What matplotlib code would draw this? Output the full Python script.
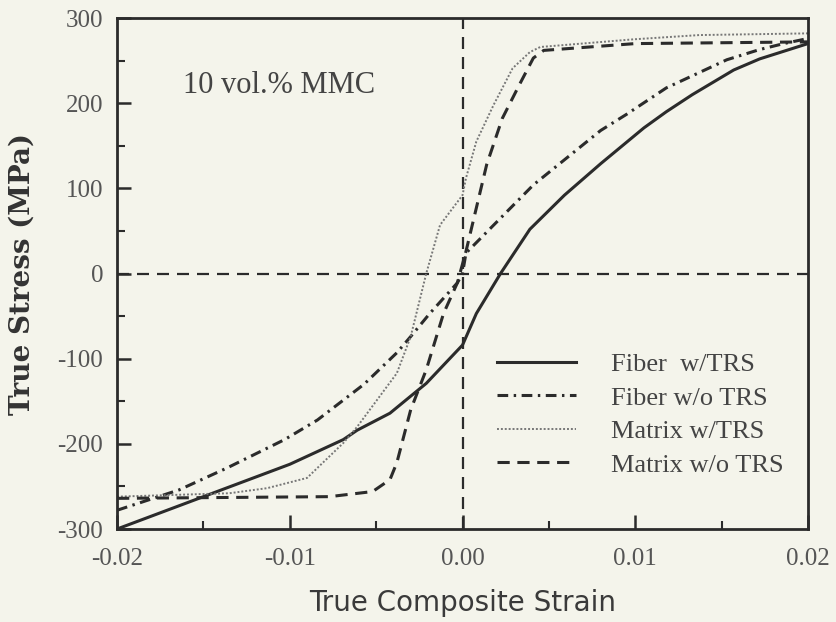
import matplotlib
matplotlib.use('Agg')
import matplotlib.pyplot as plt

plt.rcParams['axes.unicode_minus'] = False

# Fiber w/TRS (solid)
fiber_trs_x = [-0.02, -0.015, -0.01, -0.0069, -0.0061, -0.0042, -0.0021, 0.0, 0.0008, 0.0022,
               0.0039, 0.0059, 0.008, 0.0105, 0.0118, 0.0133, 0.0157, 0.0172, 0.02]
fiber_trs_y = [-300, -262, -224, -195, -184, -164, -129, -84, -47, 0,
               52, 92, 129, 171, 190, 210, 239, 252, 270]

# Fiber w/o TRS (dash-dot)
fiber_notrs_x = [-0.02, -0.0164, -0.0136, -0.0103, -0.0084, -0.0057, -0.0038, -0.003, -0.0019,
                 -0.0003, 0.0, 0.0002, 0.0041, 0.008, 0.0095, 0.0118, 0.0153, 0.0172, 0.0186, 0.02]
fiber_notrs_y = [-278, -254, -228, -195, -172, -130, -93, -74, -47,
                 -11, 0, 24, 104, 168, 187, 218, 251, 263, 270, 276]

# Matrix w/TRS (dotted)
matrix_trs_x = [-0.02, -0.0135, -0.0113, -0.009, -0.0069, -0.0061, -0.0038, -0.003, -0.0021,
                -0.0013, 0.0, 0.0002, 0.0008, 0.0018, 0.0029, 0.0039, 0.0045, 0.0099, 0.0137, 0.02]
matrix_trs_y = [-262, -258, -252, -240, -199, -180, -117, -74, 0,
                57, 92, 112, 155, 198, 241, 260, 266, 275, 280, 282]

# Matrix w/o TRS (dashed)
matrix_notrs_x = [-0.02, -0.0077, -0.0052, -0.0042, -0.0038, -0.003, -0.0021, -0.0011, -0.0003,
                  0.0002, 0.0014, 0.0023, 0.0033, 0.0041, 0.0047, 0.01, 0.02]
matrix_notrs_y = [-264, -262, -256, -242, -222, -160, -113, -47, -11,
                  26, 128, 182, 222, 253, 262, 270, 272]

labels = ['Fiber  w/TRS', 'Fiber w/o TRS', 'Matrix w/TRS', 'Matrix w/o TRS']
annotation = '10 vol.% MMC'

bg = '#f4f4eb'
ink = '#2b2b2b'

fig = plt.figure(figsize=(8.36, 6.22), dpi=100, facecolor=bg)
ax = fig.add_axes([0.14, 0.1495, 0.8265, 0.8215], facecolor=bg)

# reference lines through the origin
ax.axhline(0, color=ink, lw=1.6, dashes=(5.4, 3.6))
ax.axvline(0, color=ink, lw=1.6, dashes=(5.4, 3.6))

ax.plot(fiber_trs_x, fiber_trs_y, color=ink, lw=2.2, label=labels[0])
ax.plot(fiber_notrs_x, fiber_notrs_y, color=ink, lw=2.2, dashes=(3.5, 1.8, 0.8, 1.8), label=labels[1])
ax.plot(matrix_trs_x, matrix_trs_y, color='#777777', lw=1.4, dashes=(1, 1), label=labels[2])
ax.plot(matrix_notrs_x, matrix_notrs_y, color=ink, lw=2.2, dashes=(4, 2.5), label=labels[3])

ax.set_xlim(-0.02, 0.02)
ax.set_ylim(-300, 300)
ax.set_xticks([-0.02, -0.01, 0.0, 0.01, 0.02])
ax.set_xticklabels(['-0.02', '-0.01', '0.00', '0.01', '0.02'])
ax.set_xticks([-0.015, -0.005, 0.005, 0.015], minor=True)
ax.set_yticks([-300, -200, -100, 0, 100, 200, 300])
ax.set_yticks([-250, -150, -50, 50, 150, 250], minor=True)

ax.tick_params(which='major', direction='in', length=10, width=1.8, color=ink,
               labelsize=18, labelcolor='#555555')
ax.tick_params(which='minor', direction='in', length=6, width=1.5, color=ink)
ax.tick_params(axis='x', which='major', pad=14)
ax.tick_params(axis='y', which='major', pad=10)
for lab in ax.get_xticklabels() + ax.get_yticklabels():
    lab.set_family('Liberation Serif')

for s in ax.spines.values():
    s.set_linewidth(2)
    s.set_color(ink)

ax.set_xlabel('True Composite Strain', fontsize=20, color='#3a3a3a',
              family='DejaVu Sans')
ax.xaxis.set_label_coords(0.5, -0.118)
ax.set_ylabel('True Stress (MPa)', fontsize=20, color='#333333',
              family='DejaVu Serif', fontweight='bold')
ax.yaxis.set_label_coords(-0.118, 0.5)

ax.text(-0.0162, 221, annotation, fontsize=22, color='#444444',
        family='Liberation Serif', va='center', ha='left')

leg = ax.legend(loc='upper left', bbox_to_anchor=(0.55, 0.345), frameon=False,
                prop={'family': 'Liberation Serif', 'size': 19},
                handlelength=3.0, handletextpad=1.3, labelspacing=0.38,
                borderpad=0, borderaxespad=0)
for t in leg.get_texts():
    t.set_color('#444444')

fig.savefig('out.png', dpi=100, facecolor=bg)
